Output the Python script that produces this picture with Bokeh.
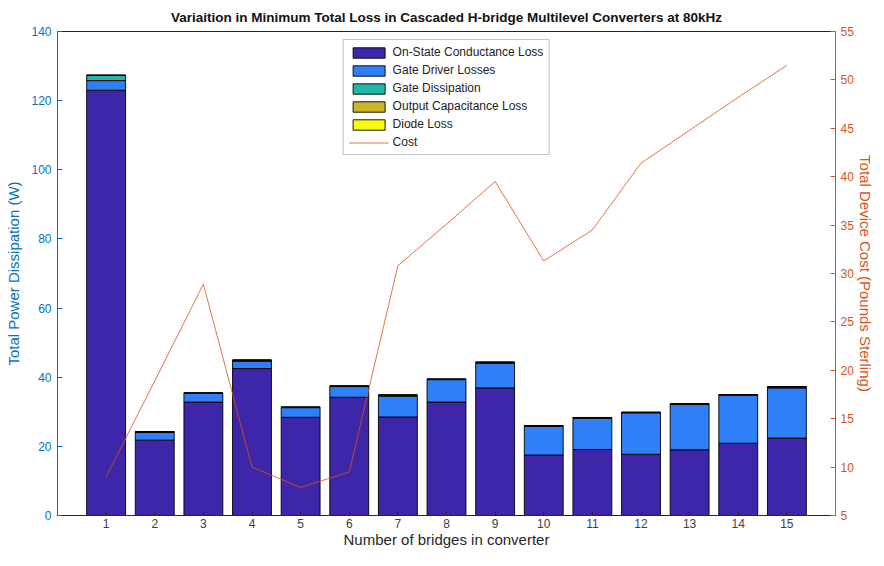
from bokeh.plotting import figure
from bokeh.models import (ColumnDataSource, Range1d, LinearAxis, FixedTicker, Legend)
from bokeh.embed import file_html
from bokeh.resources import INLINE

# ---- data ----
bridges = [1, 2, 3, 4, 5, 6, 7, 8, 9, 10, 11, 12, 13, 14, 15]
on_state = [123.0, 21.8, 32.8, 42.5, 28.4, 34.2, 28.5, 32.8, 36.9, 17.5, 19.1, 17.7, 19.0, 20.9, 22.4]
gate_driver = [2.8, 2.2, 2.5, 2.1, 2.8, 3.1, 6.0, 6.5, 7.1, 8.3, 9.0, 12.0, 13.1, 13.9, 14.5]
gate_dissipation = [1.5, 0.2, 0.1, 0.3, 0.1, 0.1, 0.3, 0.1, 0.3, 0.1, 0.2, 0.1, 0.2, 0.1, 0.3]
output_cap = [0.05, 0.05, 0.05, 0.05, 0.05, 0.05, 0.05, 0.05, 0.05, 0.05, 0.05, 0.05, 0.05, 0.05, 0.05]
diode = [0.0, 0.0, 0.0, 0.0, 0.0, 0.0, 0.0, 0.0, 0.0, 0.0, 0.0, 0.0, 0.0, 0.0, 0.0]
cost = [9.0, 18.9, 28.9, 10.0, 7.9, 9.5, 30.8, 35.1, 39.5, 31.3, 34.5, 41.4, 44.8, 48.2, 51.5]

series_names = ["On-State Conductance Loss", "Gate Driver Losses", "Gate Dissipation",
                "Output Capacitance Loss", "Diode Loss"]
series_colors = ["#3E26A8", "#2F7FF6", "#22B5A9", "#CDB52B", "#F9FB0E"]
x_ticks = bridges
left_ticks = [0, 20, 40, 60, 80, 100, 120, 140]
right_ticks = [5, 10, 15, 20, 25, 30, 35, 40, 45, 50, 55]

FONT = "Liberation Sans"
AX = "#262626"
BLUE = "#0072BD"
ORANGE = "#D95319"

source = ColumnDataSource(dict(x=bridges, s0=on_state, s1=gate_driver, s2=gate_dissipation,
                               s3=output_cap, s4=diode, cost=cost))

p = figure(width=876, height=550, output_backend="svg", toolbar_location=None,
           x_range=Range1d(0, 16), y_range=Range1d(0, 140),
           min_border_left=57, min_border_right=40, min_border_top=24, min_border_bottom=10)
p.extra_y_ranges = {"cost": Range1d(5, 55)}

renderers = p.vbar_stack(["s0", "s1", "s2", "s3", "s4"], x="x", width=0.8, source=source,
                         fill_color=series_colors, line_color="black", line_width=0.9)
cost_r = p.line("x", "cost", source=source, y_range_name="cost", line_color=ORANGE,
                line_width=1.0, line_alpha=0.8)

items = [(name, [r]) for name, r in zip(series_names, renderers)] + [("Cost", [cost_r])]
legend = Legend(items=items, location="top_center", margin=8, padding=5, spacing=4,
                glyph_width=40, glyph_height=13, label_height=13, label_standoff=4,
                label_text_font=FONT, label_text_font_size="12px", label_text_color="#222222",
                border_line_color="#888888", border_line_width=1, background_fill_alpha=1)
p.add_layout(legend, "center")

p.grid.visible = False
p.outline_line_color = AX
p.background_fill_color = "white"

# Title
p.title.text = "Variaition in Minimum Total Loss in Cascaded H-bridge Multilevel Converters at 80kHz"
p.title.align = "center"
p.title.text_font = FONT
p.title.text_font_size = "13.5px"
p.title.text_font_style = "bold"
p.title.text_color = "#111111"
p.title.standoff = 14

# x axis
xa = p.xaxis[0]
xa.ticker = FixedTicker(ticks=x_ticks)
xa.axis_label = "Number of bridges in converter"
xa.axis_label_text_font = FONT
xa.axis_label_text_font_style = "normal"
xa.axis_label_text_font_size = "15px"
xa.axis_label_text_color = AX
xa.axis_label_standoff = 0
xa.major_label_text_font = FONT
xa.major_label_text_font_size = "12px"
xa.major_label_text_color = "#404040"
xa.major_label_standoff = 3
xa.major_tick_in = 4
xa.major_tick_out = 0
xa.minor_tick_line_color = None
xa.axis_line_color = AX
xa.major_tick_line_color = AX

# left axis
ya = p.yaxis[0]
ya.ticker = FixedTicker(ticks=left_ticks)
ya.axis_label = "Total Power Dissipation (W)"
ya.axis_label_text_font = FONT
ya.axis_label_text_font_style = "normal"
ya.axis_label_text_font_size = "15px"
ya.axis_label_text_color = BLUE
ya.axis_label_standoff = 6
ya.major_label_text_font = FONT
ya.major_label_text_font_size = "12px"
ya.major_label_text_color = BLUE
ya.major_label_standoff = 6
ya.major_tick_in = 5
ya.major_tick_out = 0
ya.minor_tick_line_color = None
ya.axis_line_color = BLUE
ya.major_tick_line_color = BLUE

# right axis
ra = LinearAxis(y_range_name="cost", ticker=FixedTicker(ticks=right_ticks),
                axis_label="Total Device Cost (Pounds Sterling)")
ra.axis_label_text_font = FONT
ra.axis_label_text_font_style = "normal"
ra.axis_label_text_font_size = "15px"
ra.axis_label_text_color = ORANGE
ra.axis_label_standoff = 0
ra.major_label_text_font = FONT
ra.major_label_text_font_size = "12px"
ra.major_label_text_color = ORANGE
ra.major_label_standoff = 5
ra.major_tick_in = 5
ra.major_tick_out = 0
ra.minor_tick_line_color = None
ra.axis_line_color = ORANGE
ra.major_tick_line_color = ORANGE
p.add_layout(ra, "right")

open("out.html", "w").write(file_html(p, INLINE))
